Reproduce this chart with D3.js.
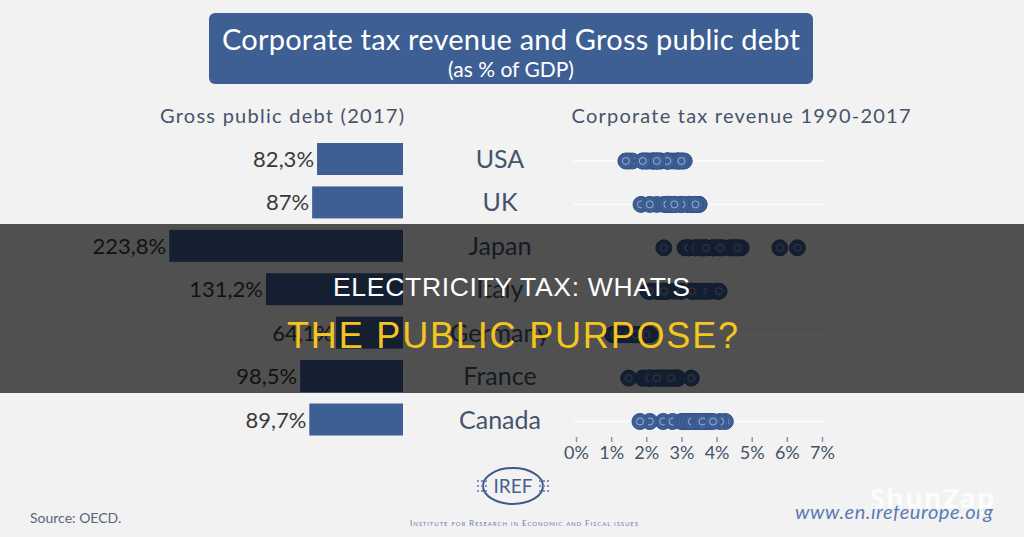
<!DOCTYPE html>
<html>
<head>
<meta charset="utf-8">
<script src="https://cdn.jsdelivr.net/npm/d3@7"></script>
<style>
  html, body { margin: 0; padding: 0; background: #f2f2f2; }
  svg { display: block; font-family: Lato, "Open Sans", sans-serif; }
</style>
</head>
<body>
<div id="chart"></div>
<script>
// countries, top to bottom
var countries = ['USA', 'UK', 'Japan', 'Italy', 'Germany', 'France', 'Canada'];
// gross public debt 2017, % of GDP
var debt = [82.3, 87, 223.8, 131.2, 64.1, 98.5, 89.7];
var debtLabels = ['82,3%', '87%', '223,8%', '131,2%', '64,1%', '98,5%', '89,7%'];
// corporate tax revenue 1990..2017, % of GDP
var taxUSA     = [2.2, 2.0, 2.1, 2.4, 2.6, 2.8, 2.9, 3.0, 2.9, 2.7, 2.6, 1.9, 1.5, 1.6, 2.2, 2.9, 3.08, 3.0, 2.0, 1.42, 2.3, 2.2, 2.3, 2.4, 2.6, 2.6, 2.3, 1.9];
var taxUK      = [3.5, 2.8, 2.3, 1.85, 2.1, 2.6, 3.0, 3.3, 3.4, 3.2, 3.3, 3.2, 2.6, 2.5, 2.7, 3.0, 3.5, 3.2, 3.4, 2.6, 2.8, 3.0, 2.7, 2.6, 2.6, 2.6, 2.8, 2.8];
var taxJapan   = [6.3, 5.8, 4.7, 4.6, 4.4, 4.5, 4.4, 4.2, 3.7, 3.4, 3.6, 3.5, 3.1, 3.2, 3.6, 4.0, 4.5, 4.6, 3.9, 2.5, 3.2, 3.4, 3.6, 3.9, 4.1, 3.9, 3.7, 4.1];
var taxItaly   = [3.8, 3.7, 3.5, 4.0, 3.3, 3.3, 3.6, 4.07, 2.8, 3.3, 2.5, 3.0, 2.6, 2.3, 2.3, 2.4, 3.0, 3.4, 3.3, 2.6, 2.5, 2.4, 2.5, 2.5, 2.1, 2.05, 2.1, 2.1];
var taxGermany = [1.7, 1.5, 1.4, 1.2, 1.05, 1.1, 1.4, 1.5, 1.6, 1.8, 1.8, 1.05, 1.1, 1.3, 1.6, 1.7, 2.1, 2.1, 1.9, 1.3, 1.5, 1.7, 1.8, 1.8, 1.7, 1.7, 2.0, 2.0];
var taxFrance  = [2.2, 2.1, 1.9, 1.9, 2.0, 2.1, 2.4, 2.6, 2.6, 2.8, 2.9, 3.28, 2.8, 2.4, 2.7, 2.5, 2.9, 2.9, 2.8, 1.5, 2.1, 2.4, 2.5, 2.7, 2.3, 2.1, 2.1, 2.3];
var taxCanada  = [2.48, 2.1, 1.82, 2.75, 3.0, 3.1, 3.4, 3.7, 3.6, 3.8, 4.25, 3.6, 3.1, 3.2, 3.4, 3.6, 4.1, 3.8, 3.5, 3.3, 3.2, 3.1, 3.1, 3.2, 3.3, 3.5, 3.6, 3.9];
var taxSeries = [taxUSA, taxUK, taxJapan, taxItaly, taxGermany, taxFrance, taxCanada];
var taxTicks = [0, 1, 2, 3, 4, 5, 6, 7];

var W = 1024, H = 537;
var blue = '#3e5f94', textBlue = '#44546a';

var svg = d3.select('#chart').append('svg').attr('width', W).attr('height', H);
svg.append('rect').attr('width', W).attr('height', H).attr('fill', '#f2f2f2');

// title box
svg.append('rect').attr('x', 209).attr('y', 13).attr('width', 604).attr('height', 71)
  .attr('rx', 6).attr('fill', blue);
svg.append('text').attr('x', 511).attr('y', 50).attr('text-anchor', 'middle')
  .attr('fill', '#fff').attr('font-size', 29).attr('textLength', 578)
  .text('Corporate tax revenue and Gross public debt');
svg.append('text').attr('x', 511).attr('y', 77).attr('text-anchor', 'middle')
  .attr('fill', '#fff').attr('font-size', 21).text('(as % of GDP)');

// column headers
svg.append('text').attr('x', 282).attr('y', 123).attr('text-anchor', 'middle')
  .attr('fill', textBlue).attr('font-size', 20).attr('textLength', 244).text('Gross public debt (2017)');
svg.append('text').attr('x', 741).attr('y', 123).attr('text-anchor', 'middle')
  .attr('fill', textBlue).attr('font-size', 20).attr('textLength', 339).text('Corporate tax revenue 1990-2017');

// scales
var y = d3.scalePoint().domain(countries).range([159, 419.5]);
var debtX = d3.scaleLinear().domain([0, 225]).range([0, 235]);
var barRight = 403, barH = 32;
var taxX = d3.scaleLinear().domain([0, 7]).range([576, 822]);

// debt bars
var rows = svg.append('g').selectAll('g').data(countries).join('g');
rows.append('rect')
  .attr('x', function(d, i){ return barRight - debtX(debt[i]); })
  .attr('y', function(d){ return y(d) - barH / 2; })
  .attr('width', function(d, i){ return debtX(debt[i]); })
  .attr('height', barH).attr('fill', blue);
rows.append('text')
  .attr('x', function(d, i){ return barRight - debtX(debt[i]) - 3; })
  .attr('y', function(d){ return y(d) + 8; })
  .attr('text-anchor', 'end').attr('font-size', 22).attr('fill', '#3a3a3a')
  .text(function(d, i){ return debtLabels[i]; });
rows.append('text')
  .attr('x', 500).attr('y', function(d){ return y(d) + 9; })
  .attr('text-anchor', 'middle').attr('font-size', 25).attr('fill', textBlue)
  .text(function(d){ return d; });

// faint guide lines behind dots
rows.append('line')
  .attr('x1', taxX(0) - 3).attr('x2', taxX(7) + 2)
  .attr('y1', function(d){ return y(d) + 2; }).attr('y2', function(d){ return y(d) + 2; })
  .attr('stroke', '#fcfcfc').attr('stroke-width', 1.5);

// dot strips, each marker drawn in year order like the source
countries.forEach(function(c, i){
  var g = svg.append('g');
  var pts = g.selectAll('g').data(taxSeries[i]).join('g')
    .attr('transform', function(v){ return 'translate(' + taxX(v) + ',' + (y(c) + 2) + ')'; });
  pts.append('circle').attr('r', 8).attr('fill', blue).attr('stroke', '#34528a').attr('stroke-width', 1);
  pts.append('circle').attr('r', 3.5).attr('fill', 'none').attr('stroke', '#c3cde0')
    .attr('stroke-opacity', 0.7).attr('stroke-width', 1);
});

// tax axis
var axis = svg.append('g').attr('transform', 'translate(0,437)')
  .call(d3.axisBottom(taxX).tickValues(taxTicks).tickSize(5).tickPadding(4)
    .tickFormat(function(d){ return d + '%'; }));
axis.select('.domain').remove();
axis.selectAll('.tick line').attr('stroke', '#8a94a6').attr('stroke-width', 1.5);
axis.selectAll('.tick text').attr('fill', textBlue).attr('font-size', 18)
  .attr('font-family', 'Lato, sans-serif');

// footer
svg.append('text').attr('x', 30).attr('y', 523).attr('font-size', 14).attr('fill', '#5a6478')
  .text('Source: OECD.');

var logo = svg.append('g').attr('transform', 'translate(513,486)');
logo.append('ellipse').attr('rx', 30).attr('ry', 18).attr('fill', 'none')
  .attr('stroke', '#3d5a8c').attr('stroke-width', 2);
logo.append('text').attr('y', 7).attr('text-anchor', 'middle').attr('font-size', 19)
  .attr('fill', '#4a5f8e').text('IREF');
[-1, 1].forEach(function(s){
  for (var k = 0; k < 9; k++) {
    logo.append('rect').attr('x', s * (27 + (k % 3) * 4) - 1).attr('y', -6 + Math.floor(k / 3) * 5)
      .attr('width', 2).attr('height', 2).attr('fill', '#7f95bd');
  }
});
svg.append('text').attr('x', 524).attr('y', 526).attr('text-anchor', 'middle')
  .attr('font-size', 8).attr('fill', '#6d80a8').attr('textLength', 228)
  .style('font-variant', 'small-caps').text('Institute for Research in Economic and Fiscal issues');

svg.append('text').attr('x', 795).attr('y', 519).attr('font-size', 20).attr('font-style', 'italic')
  .attr('fill', '#5b7bb5').attr('textLength', 198).text('www.en.irefeurope.org');
svg.append('text').attr('x', 870).attr('y', 508).attr('font-size', 27).attr('font-weight', 'bold')
  .attr('fill', '#ffffff').attr('fill-opacity', 0.85).attr('textLength', 124)
  .attr('font-family', '"Open Sans", sans-serif').text('ShunZap');

// dark banner with headline
svg.append('rect').attr('x', 0).attr('y', 224).attr('width', W).attr('height', 169)
  .attr('fill', '#000').attr('fill-opacity', 0.67);
svg.append('text').attr('x', 511.5).attr('y', 296).attr('text-anchor', 'middle')
  .attr('font-family', '"Liberation Sans", Arial, sans-serif').attr('font-size', 26.5)
  .attr('fill', '#fff').attr('textLength', 357).text("ELECTRICITY TAX: WHAT'S");
svg.append('text').attr('x', 512.5).attr('y', 348).attr('text-anchor', 'middle')
  .attr('font-family', '"Liberation Sans", Arial, sans-serif').attr('font-size', 36)
  .attr('fill', '#f4c51f').attr('textLength', 451).text('THE PUBLIC PURPOSE?');
</script>
</body>
</html>
